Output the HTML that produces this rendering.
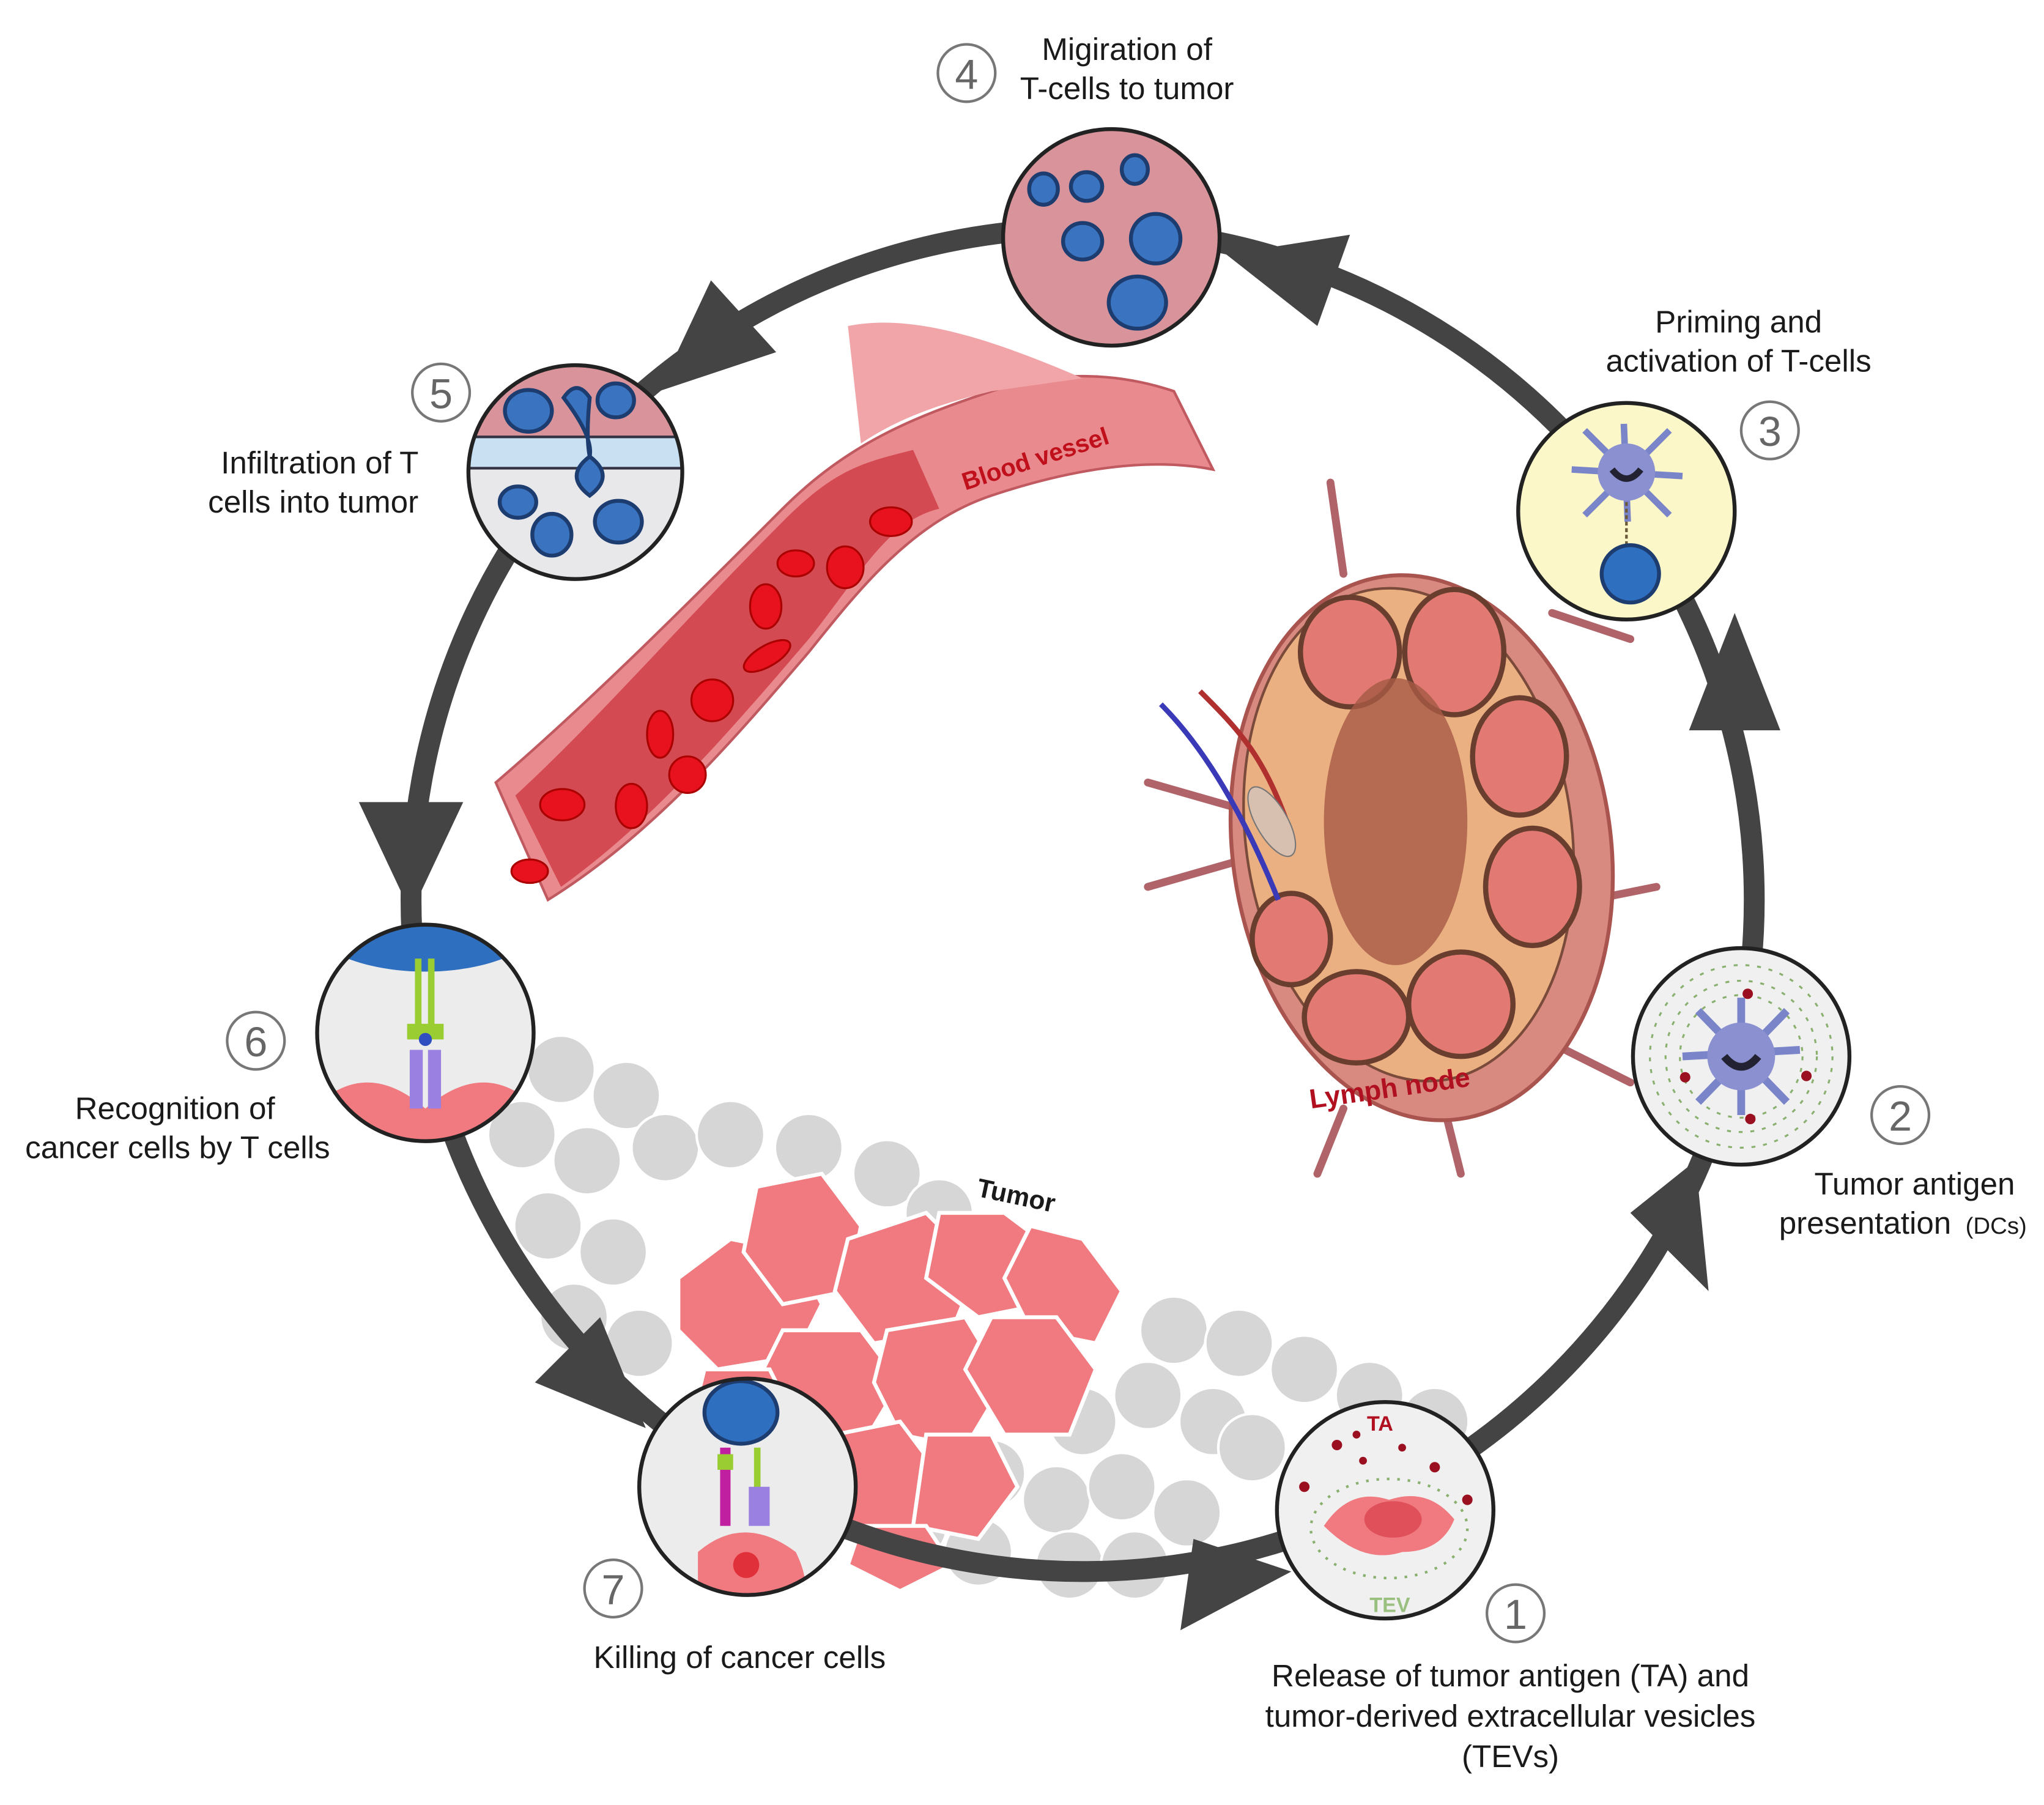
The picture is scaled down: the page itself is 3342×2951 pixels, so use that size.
<!DOCTYPE html>
<html><head><meta charset="utf-8"><style>
html,body{margin:0;padding:0;background:#fff;}
svg{display:block;}
text{font-family:"Liberation Sans",sans-serif;fill:#1a1a1a;}
</style></head><body>
<svg width="3342" height="2951" viewBox="0 0 1567 1384" xmlns="http://www.w3.org/2000/svg">
<rect width="1567" height="1384" fill="#fff"/>

<!-- background grey cells -->
<g fill="#d6d6d6" stroke="#fff" stroke-width="2">
<circle cx="430" cy="820" r="26"/><circle cx="480" cy="840" r="26"/><circle cx="400" cy="870" r="26"/><circle cx="450" cy="890" r="26"/>
<circle cx="510" cy="880" r="26"/><circle cx="420" cy="940" r="26"/><circle cx="470" cy="960" r="26"/><circle cx="560" cy="870" r="26"/>
<circle cx="620" cy="880" r="26"/><circle cx="680" cy="900" r="26"/><circle cx="440" cy="1010" r="26"/><circle cx="490" cy="1030" r="26"/>
<circle cx="720" cy="930" r="26"/><circle cx="780" cy="1070" r="26"/><circle cx="830" cy="1090" r="26"/><circle cx="880" cy="1070" r="26"/>
<circle cx="930" cy="1090" r="26"/><circle cx="900" cy="1020" r="26"/><circle cx="950" cy="1030" r="26"/><circle cx="1000" cy="1050" r="26"/>
<circle cx="1050" cy="1070" r="26"/><circle cx="1100" cy="1090" r="26"/><circle cx="760" cy="1130" r="26"/><circle cx="810" cy="1150" r="26"/>
<circle cx="860" cy="1140" r="26"/><circle cx="910" cy="1160" r="26"/><circle cx="700" cy="1170" r="26"/><circle cx="750" cy="1190" r="26"/>
<circle cx="820" cy="1200" r="26"/><circle cx="870" cy="1200" r="26"/><circle cx="960" cy="1110" r="26"/>
</g>
<!-- tumor cells -->
<g fill="#f07a7f" stroke="#fff" stroke-width="3">
<path d="M520 980l40-30 50 10 20 40-20 40-60 10-30-30z"/><path d="M580 910l50-10 30 40-10 50-50 10-30-40z"/>
<path d="M650 950l60-20 40 40-20 50-60 10-30-40z"/><path d="M720 930l50 0 40 30-10 40-50 10-40-30z"/>
<path d="M790 940l40 10 30 40-20 40-50-10-20-40z"/><path d="M600 1020l60 0 30 40-30 50-60-10-20-40z"/>
<path d="M680 1020l60-10 30 50-30 50-50-10-20-40z"/><path d="M760 1010l50 0 30 40-20 50-50 0-30-50z"/>
<path d="M640 1100l50-10 30 40-20 50-50 0-30-40z"/><path d="M710 1100l50 0 20 40-30 40-50-10z"/>
<path d="M660 1170l50 0 20 30-40 20-40-20z"/><path d="M540 1050l50 0 20 40-40 30-40-30z"/>
</g>
<text x="748" y="917" font-size="20" font-weight="bold" transform="rotate(12 748 917)">Tumor</text>

<!-- blood vessel -->
<path d="M380 600 C 450 540, 520 470, 600 390 C 650 340, 700 320, 760 300 C 820 280, 870 290, 900 300 L 930 360 C 880 350, 820 360, 760 380 C 700 400, 660 450, 620 500 C 560 570, 500 640, 420 690 Z" fill="#e88a8e" stroke="#c05a60" stroke-width="2"/>
<path d="M650 250 C 700 240, 760 260, 830 290 L 760 300 C 720 310, 690 320, 660 340 Z" fill="#f2a5a8"/>
<path d="M395 610 C 460 550, 520 480, 600 400 C 640 360, 660 355, 700 345 L 720 390 C 680 400, 660 440, 620 490 C 560 560, 500 630, 430 680 Z" fill="#d44a52"/>
<g fill="#e8121e" stroke="#a00" stroke-width="1.5">
<ellipse cx="683" cy="400" rx="16" ry="11"/><ellipse cx="610" cy="432" rx="14" ry="10"/><ellipse cx="648" cy="435" rx="14" ry="16"/>
<ellipse cx="587" cy="465" rx="12" ry="17"/><ellipse cx="588" cy="503" rx="20" ry="8" transform="rotate(-30 588 503)"/>
<ellipse cx="546" cy="537" rx="16" ry="16"/><ellipse cx="506" cy="563" rx="10" ry="18"/><ellipse cx="527" cy="594" rx="14" ry="14"/>
<ellipse cx="484" cy="618" rx="12" ry="17"/><ellipse cx="431" cy="617" rx="17" ry="12"/><ellipse cx="406" cy="668" rx="14" ry="9"/>
</g>
<text x="740" y="376" font-size="19" font-weight="bold" fill="#c0101c" style="fill:#c0101c" transform="rotate(-18 740 376)">Blood vessel</text>

<!-- lymph node -->
<g stroke="#b0646a" stroke-width="6" fill="none" stroke-linecap="round">
<path d="M1020 370 L1030 440"/><path d="M1190 470 L1250 490"/><path d="M1220 690 L1270 680"/><path d="M1190 800 L1250 830"/>
<path d="M1030 850 L1010 900"/><path d="M1110 860 L1120 900"/><path d="M950 620 L880 600"/><path d="M950 660 L880 680"/>
</g>
<ellipse cx="1090" cy="650" rx="145" ry="210" fill="#d88a80" stroke="#a9544f" stroke-width="3" transform="rotate(-8 1090 650)"/>
<ellipse cx="1080" cy="640" rx="125" ry="190" fill="#ebb082" stroke="#7a4a3a" stroke-width="2" transform="rotate(-8 1080 640)"/>
<g fill="#e27a73" stroke="#6a3e2e" stroke-width="4">
<ellipse cx="1035" cy="500" rx="38" ry="42"/><ellipse cx="1115" cy="500" rx="38" ry="48"/><ellipse cx="1165" cy="580" rx="36" ry="45"/>
<ellipse cx="1175" cy="680" rx="36" ry="45"/><ellipse cx="1120" cy="770" rx="40" ry="40"/><ellipse cx="1040" cy="780" rx="40" ry="35"/>
<ellipse cx="990" cy="720" rx="30" ry="35"/>
</g>
<ellipse cx="1070" cy="630" rx="55" ry="110" fill="#a65a45" opacity="0.8"/>
<path d="M890 540 C 930 580, 960 640, 980 690" stroke="#3a3ab8" stroke-width="4" fill="none"/>
<path d="M920 530 C 950 560, 970 580, 990 640" stroke="#b03030" stroke-width="4" fill="none"/>
<ellipse cx="975" cy="630" rx="12" ry="30" fill="#d8c0b0" stroke="#777" transform="rotate(-30 975 630)"/>
<text x="1005" y="850" font-size="21" font-weight="bold" style="fill:#b01020" transform="rotate(-8 1005 850)">Lymph node</text>

<!-- cycle ring -->
<circle cx="830" cy="690" r="515" fill="none" stroke="#444" stroke-width="16"/>
<g fill="#444">
<polygon points="1310,990 1250,930 1300,890"/>
<polygon points="1330,470 1295,560 1365,560"/>
<polygon points="940,195 1035,180 1010,250"/>
<polygon points="505,300 545,215 595,270"/>
<polygon points="315,700 275,615 355,615"/>
<polygon points="495,1095 410,1060 460,1010"/>
<polygon points="990,1205 905,1250 915,1180"/>
</g>

<!-- circle 4 -->
<circle cx="852" cy="182" r="83" fill="#d9939a" stroke="#222" stroke-width="3"/>
<g fill="#3a74c0" stroke="#1d3d70" stroke-width="3">
<ellipse cx="800" cy="145" rx="11" ry="12"/><ellipse cx="833" cy="143" rx="12" ry="11"/><ellipse cx="870" cy="130" rx="10" ry="11"/>
<ellipse cx="830" cy="185" rx="15" ry="14"/><ellipse cx="886" cy="183" rx="19" ry="19"/><ellipse cx="872" cy="232" rx="22" ry="20"/>
</g>
<!-- circle 5 -->
<clipPath id="c5"><circle cx="441" cy="362" r="82"/></clipPath>
<g clip-path="url(#c5)">
<rect x="350" y="270" width="190" height="190" fill="#e8e8ea"/>
<rect x="350" y="270" width="190" height="65" fill="#d9939a"/>
<rect x="350" y="335" width="190" height="24" fill="#c9e0f2" stroke="#334" stroke-width="2"/>
<g fill="#3a74c0" stroke="#1d3d70" stroke-width="3">
<ellipse cx="405" cy="315" rx="18" ry="16"/><ellipse cx="472" cy="307" rx="14" ry="13"/>
<path d="M432 305 q10-15 20 0 q-3 30 0 45 q20 15 0 30 q-20-15 0-30 q3-15-20-45z"/>
<ellipse cx="397" cy="385" rx="14" ry="12"/><ellipse cx="423" cy="410" rx="15" ry="16"/><ellipse cx="474" cy="400" rx="18" ry="16"/>
</g>
</g>
<circle cx="441" cy="362" r="82" fill="none" stroke="#222" stroke-width="3"/>
<!-- circle 3 -->
<circle cx="1247" cy="392" r="83" fill="#fbf7c8" stroke="#222" stroke-width="3"/>
<g stroke="#7a84c8" stroke-width="5">
<line x1="1205" y1="360" x2="1290" y2="365"/><line x1="1245" y1="325" x2="1248" y2="400"/><line x1="1215" y1="330" x2="1280" y2="395"/><line x1="1280" y1="330" x2="1215" y2="395"/>
</g>
<circle cx="1247" cy="362" r="22" fill="#8a90d0"/>
<path d="M1236 360 q11 14 22 0" stroke="#223" stroke-width="5" fill="none"/>
<line x1="1247" y1="385" x2="1247" y2="420" stroke="#6a5a3a" stroke-width="2" stroke-dasharray="3 2"/>
<circle cx="1250" cy="440" r="22" fill="#2f6fc0" stroke="#1d3d70" stroke-width="3"/>
<!-- circle 2 -->
<circle cx="1335" cy="810" r="83" fill="#f0f0f0" stroke="#222" stroke-width="3"/>
<g fill="none" stroke="#8ab070" stroke-width="1.5" stroke-dasharray="3 6">
<circle cx="1335" cy="810" r="70"/><circle cx="1335" cy="810" r="58"/><circle cx="1335" cy="810" r="47"/>
</g>
<g stroke="#7a84c8" stroke-width="6">
<line x1="1290" y1="810" x2="1380" y2="805"/><line x1="1335" y1="765" x2="1335" y2="855"/><line x1="1302" y1="775" x2="1370" y2="845"/><line x1="1370" y1="775" x2="1302" y2="845"/>
</g>
<circle cx="1335" cy="810" r="26" fill="#8a90d0"/>
<path d="M1322 810 q13 16 26 0" stroke="#223" stroke-width="6" fill="none"/>
<g fill="#9a1020"><circle cx="1340" cy="762" r="4"/><circle cx="1292" cy="826" r="4"/><circle cx="1385" cy="825" r="4"/><circle cx="1342" cy="858" r="4"/></g>
<!-- circle 1 -->
<circle cx="1062" cy="1158" r="83" fill="#f0f0f0" stroke="#222" stroke-width="3"/>
<path d="M1015 1170 q20-30 50-20 q30-10 50 15 q-10 25-40 25 q-30 10-60-20z" fill="#f07a7f"/>
<ellipse cx="1068" cy="1165" rx="22" ry="14" fill="#e0505a"/>
<g fill="none" stroke="#8ab070" stroke-width="2" stroke-dasharray="2 6"><ellipse cx="1065" cy="1172" rx="60" ry="38"/></g>
<g fill="#9a1020"><circle cx="1000" cy="1140" r="4"/><circle cx="1025" cy="1108" r="4"/><circle cx="1045" cy="1120" r="3"/><circle cx="1075" cy="1110" r="3"/><circle cx="1100" cy="1125" r="4"/><circle cx="1125" cy="1150" r="4"/><circle cx="1040" cy="1100" r="3"/></g>
<text x="1048" y="1097" font-size="16" font-weight="bold" style="fill:#b01020">TA</text>
<text x="1050" y="1236" font-size="16" font-weight="bold" style="fill:#9ac080">TEV</text>
<!-- circle 7 -->
<clipPath id="c7"><circle cx="573" cy="1140" r="83"/></clipPath>
<g clip-path="url(#c7)">
<rect x="480" y="1050" width="190" height="190" fill="#ececec"/>
<path d="M535 1190 q35-30 75 0 q15 30 0 50 h-75z" fill="#f07a7f"/>
<circle cx="572" cy="1200" r="10" fill="#e0303a"/>
</g>
<ellipse cx="568" cy="1083" rx="28" ry="24" fill="#2f6fc0" stroke="#1d3d70" stroke-width="3"/>
<rect x="552" y="1110" width="8" height="60" fill="#c020a0"/><rect x="550" y="1115" width="12" height="12" fill="#9acd32"/>
<rect x="578" y="1110" width="5" height="40" fill="#9acd32"/><rect x="574" y="1140" width="16" height="30" fill="#9a80e0"/>
<circle cx="573" cy="1140" r="83" fill="none" stroke="#222" stroke-width="3"/>
<!-- circle 6 -->
<clipPath id="c6"><circle cx="326" cy="792" r="83"/></clipPath>
<g clip-path="url(#c6)">
<rect x="240" y="705" width="175" height="175" fill="#ececec"/>
<ellipse cx="326" cy="705" rx="90" ry="40" fill="#2f6fc0"/>
<path d="M240 850 q40-40 86 0 q46-40 86 0 v40 h-172z" fill="#f07a7f"/>
</g>
<rect x="318" y="735" width="5" height="55" fill="#9acd32"/><rect x="328" y="735" width="5" height="55" fill="#9acd32"/>
<rect x="312" y="785" width="28" height="12" fill="#9acd32"/>
<rect x="314" y="805" width="10" height="45" fill="#9a80e0"/><rect x="328" y="805" width="10" height="45" fill="#9a80e0"/>
<circle cx="326" cy="797" r="5" fill="#2f4fc0"/>
<circle cx="326" cy="792" r="83" fill="none" stroke="#222" stroke-width="3"/>

<!-- number badges -->
<g fill="none" stroke="#777" stroke-width="2">
<circle cx="741" cy="56" r="22"/><circle cx="338" cy="301" r="22"/><circle cx="1357" cy="330" r="22"/>
<circle cx="1457" cy="855" r="22"/><circle cx="1162" cy="1237" r="22"/><circle cx="470" cy="1218" r="22"/><circle cx="196" cy="798" r="22"/>
</g>
<g font-size="32" text-anchor="middle" style="fill:#666">
<text x="741" y="68" style="fill:#666">4</text><text x="338" y="313" style="fill:#666">5</text><text x="1357" y="342" style="fill:#666">3</text>
<text x="1457" y="867" style="fill:#666">2</text><text x="1162" y="1249" style="fill:#666">1</text><text x="470" y="1230" style="fill:#666">7</text><text x="196" y="810" style="fill:#666">6</text>
</g>

<!-- labels -->
<g font-size="24" text-anchor="middle">
<text x="864" y="46">Migiration of</text><text x="864" y="76">T-cells to tumor</text>
<text x="1333" y="255">Priming and</text><text x="1333" y="285">activation of T-cells</text>
<text x="245" y="363">Infiltration of T</text><text x="240" y="393">cells into tumor</text>
<text x="134" y="858">Recognition of</text><text x="136" y="888">cancer cells by T cells</text>
<text x="1468" y="916">Tumor antigen</text><text x="1430" y="946">presentation</text>
<text x="567" y="1279">Killing of cancer cells</text>
<text x="1158" y="1293">Release of tumor antigen (TA) and</text>
<text x="1158" y="1324">tumor-derived extracellular vesicles</text>
<text x="1158" y="1355">(TEVs)</text>
</g>
<text x="1507" y="946" font-size="18" text-anchor="start">(DCs)</text>
</svg>
</body></html>
